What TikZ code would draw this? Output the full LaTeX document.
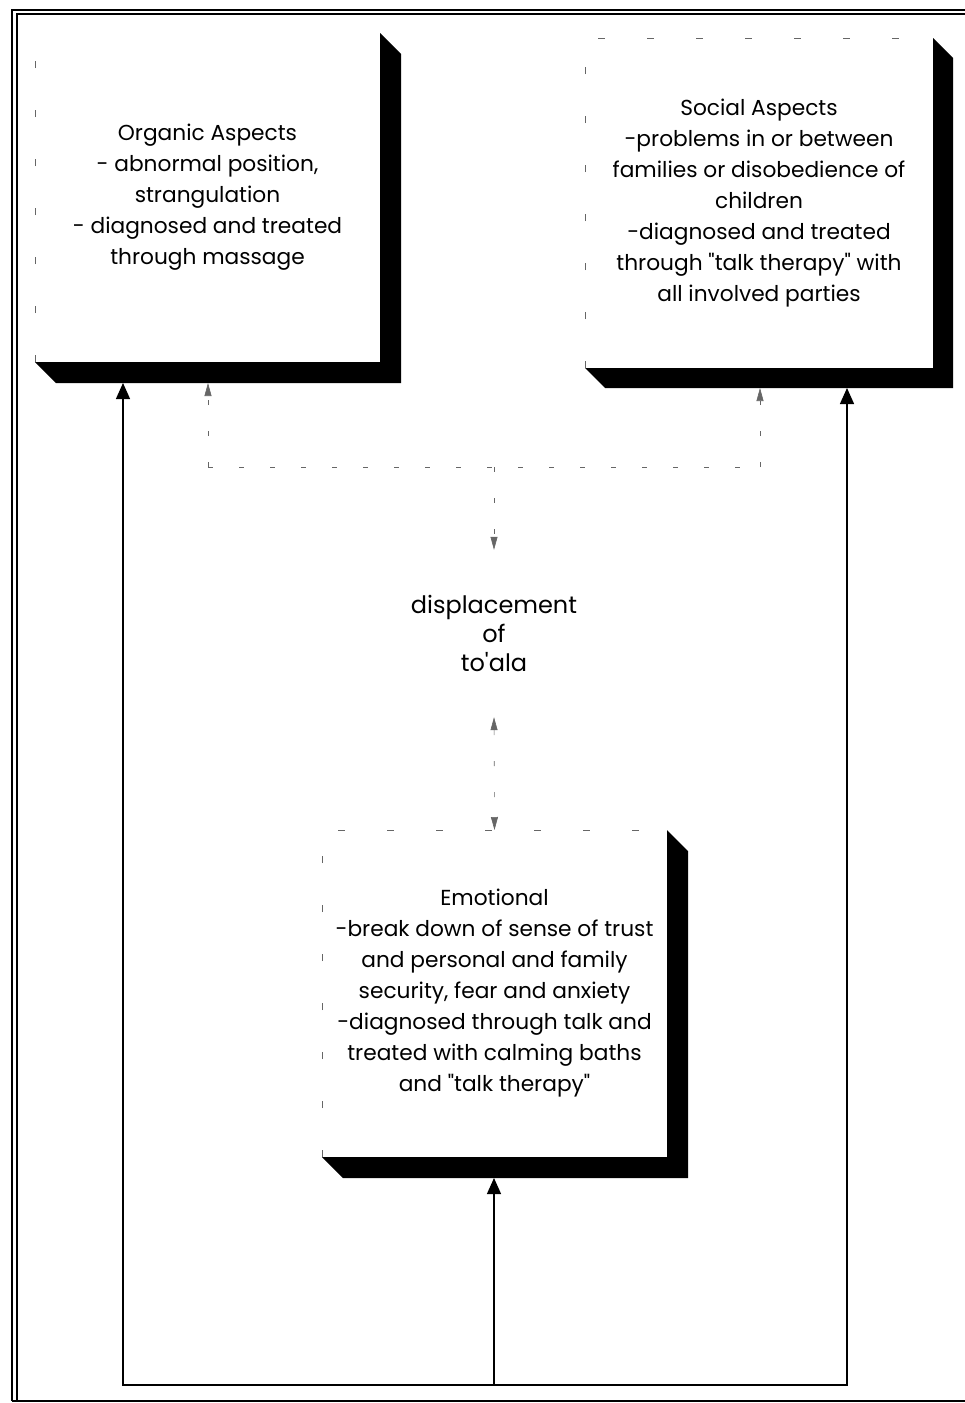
\documentclass[tikz,border=0pt]{standalone}
\usepackage{fontspec}
\setmainfont{Poppins}[Ligatures=TeXOff]
\usetikzlibrary{calc,arrows.meta}
\begin{document}
\begin{tikzpicture}[x=1pt,y=-1pt,
  panel/.style={inner sep=0pt, outer sep=0pt, fill=white, align=center,
                font=\fontsize{21.7}{31}\selectfont},
  shade/.style={fill=black},
  edgeline/.style={draw=black!60, line width=0.6pt, dash pattern=on 7pt off 42pt},
  dashlink/.style={draw=black!60, line width=0.6pt, dash pattern=on 5pt off 26pt},
  solidlink/.style={draw=black, line width=1.3pt},
  bigtip/.style={-{Triangle[width=14pt,length=16pt]}},
  smalltip/.style={-{Triangle[width=7pt,length=13pt]}},
  bothsmall/.style={{Triangle[width=7pt,length=13pt]}-{Triangle[width=7pt,length=13pt]}},
  bothbig/.style={{Triangle[width=14pt,length=16pt]}-{Triangle[width=14pt,length=16pt]}},
  frameline/.style={draw=black, line width=1.2pt}
]
\useasboundingbox (0,0) rectangle (965,1403);

% outer double frame, open on the right
\path[frameline] (12,1401) -- (12,10) -- (965,10);
\path[frameline] (17,1401) -- (17,14) -- (965,14);
\path[frameline] (12,1401) -- (965,1401);

% the three panels
\node[panel, minimum width=345pt, minimum height=329pt] (organic) at (207.5,197.5)
  {Organic Aspects\\- abnormal position,\\strangulation\\- diagnosed and treated\\through massage};
\node[panel, minimum width=348pt, minimum height=330pt] (social) at (759,203)
  {Social Aspects\\-problems in or between\\families or disobedience of\\children\\-diagnosed and treated\\through "talk therapy" with\\all involved parties};
\node[panel, minimum width=345pt, minimum height=327pt] (emotional) at (494.5,993.5)
  {Emotional\\-break down of sense of trust\\and personal and family\\security, fear and anxiety\\-diagnosed through talk and\\treated with calming baths\\and "talk therapy"};

% extruded shadows on the right and bottom sides
\foreach \b/\d in {organic/21, social/20, emotional/21}{
  \fill[shade] (\b.north east) -- ++(\d,\d) -- ($(\b.south east)+(\d,\d)$)
     -- ($(\b.south west)+(\d,\d)$) -- (\b.south west) -- (\b.south east) -- cycle;
  \coordinate (\b-base) at ($(\b.south)+(0,\d)$);
}

% faint left and top edges
\path[edgeline] (organic.south west) -- (organic.north west);
\path[edgeline] (social.south west) -- (social.north west) -- (social.north east);
\path[edgeline] (emotional.south west) -- (emotional.north west) -- (emotional.north east);

% centre label
\node[inner sep=0pt, minimum height=167pt, align=center,
      font=\fontsize{24}{29}\selectfont] (disp) at (494,633.5)
  {displacement\\of\\to'ala};

% dashed links
\coordinate (jl) at (208,467);
\coordinate (jm) at (494,467);
\coordinate (jr) at (760,467);
\path[dashlink] (jl) -- (jr);
\path[dashlink, smalltip] (jl) -- (jl |- organic-base);
\path[dashlink, smalltip] (jr) -- (jr |- social-base);
\path[dashlink, smalltip] (jm) -- (disp.north);
\path[dashlink, bothsmall] (disp.south) -- (emotional.north);

% solid feedback loop
\coordinate (bl) at (123,1385);
\coordinate (bm) at (494,1385);
\coordinate (br) at (847,1385);
\path[solidlink, bothbig] (bl |- organic-base) -- (bl) -- (br) -- (br |- social-base);
\path[solidlink, bigtip] (bm) -- (bm |- emotional-base);
\end{tikzpicture}
\end{document}
